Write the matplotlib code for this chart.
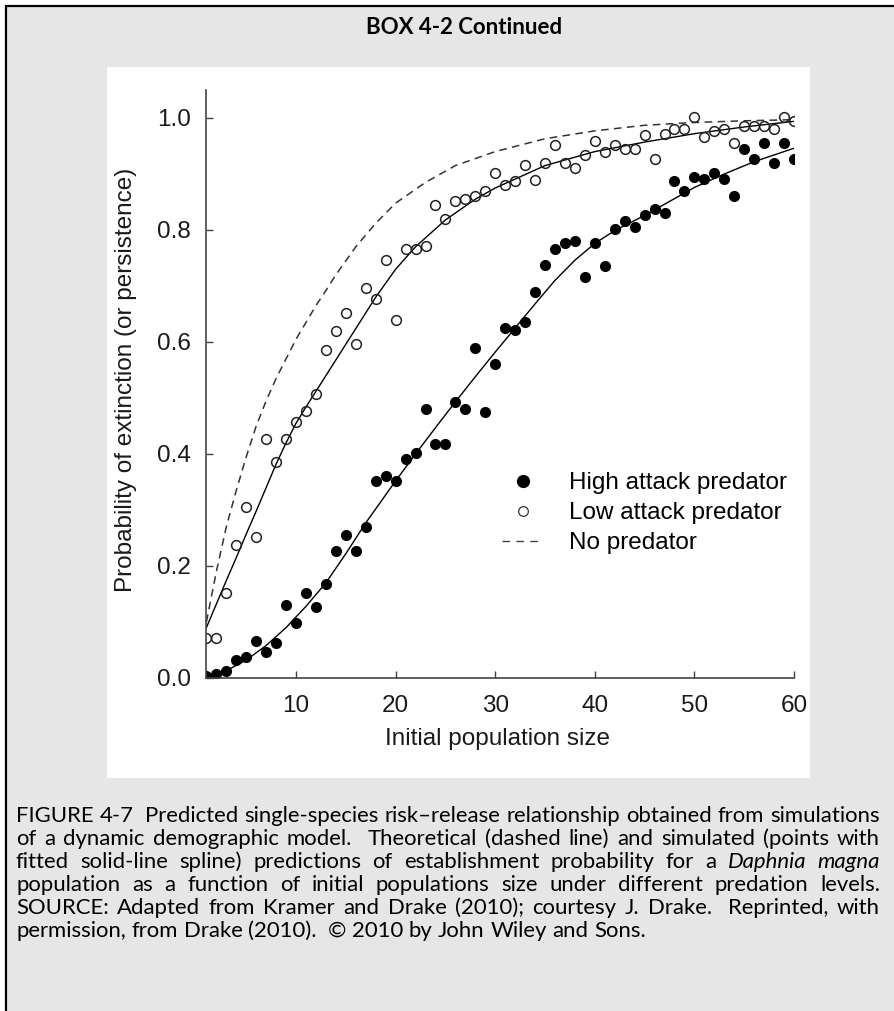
import numpy as np
import matplotlib.pyplot as plt
from matplotlib.patches import Rectangle

# ---- data ----
pop_size = np.arange(1, 61)

high_attack = [0.004, 0.008, 0.012, 0.033, 0.038, 0.066, 0.047, 0.062, 0.130, 0.098,
               0.152, 0.126, 0.167, 0.227, 0.255, 0.227, 0.270, 0.352, 0.360, 0.352,
               0.391, 0.402, 0.481, 0.417, 0.417, 0.492, 0.481, 0.590, 0.475, 0.561,
               0.625, 0.621, 0.636, 0.690, 0.737, 0.766, 0.776, 0.780, 0.716, 0.776,
               0.736, 0.801, 0.816, 0.805, 0.826, 0.837, 0.830, 0.887, 0.870, 0.895,
               0.891, 0.901, 0.891, 0.861, 0.945, 0.926, 0.955, 0.920, 0.955, 0.926]

low_attack = [0.072, 0.072, 0.152, 0.237, 0.306, 0.252, 0.427, 0.385, 0.427, 0.457,
              0.476, 0.507, 0.585, 0.620, 0.651, 0.597, 0.696, 0.676, 0.746, 0.640,
              0.766, 0.766, 0.772, 0.845, 0.820, 0.851, 0.855, 0.861, 0.870, 0.901,
              0.880, 0.887, 0.916, 0.890, 0.920, 0.951, 0.920, 0.911, 0.934, 0.959,
              0.940, 0.951, 0.945, 0.945, 0.970, 0.926, 0.971, 0.981, 0.980, 1.001,
              0.966, 0.976, 0.980, 0.956, 0.985, 0.985, 0.985, 0.980, 1.001, 0.995]

# fitted splines (solid lines), read at a few sizes
high_fit_x = [1, 3, 5, 7, 9, 11, 13, 15, 17, 20, 22, 24, 26, 28, 30, 32, 34, 36, 38,
              40, 42, 45, 48, 50, 53, 56, 60]
high_fit_y = [0.0, 0.013, 0.032, 0.058, 0.09, 0.128, 0.17, 0.222, 0.277, 0.352, 0.4,
              0.447, 0.493, 0.538, 0.582, 0.625, 0.668, 0.71, 0.746, 0.776, 0.799,
              0.826, 0.856, 0.876, 0.9, 0.922, 0.946]

low_fit_x = [1, 2, 3, 4, 5, 6, 7, 8, 9, 10, 11, 12, 14, 16, 18, 20, 22, 25, 28, 30,
             35, 40, 45, 50, 55, 60]
low_fit_y = [0.09, 0.132, 0.174, 0.215, 0.257, 0.298, 0.34, 0.382, 0.42, 0.455, 0.484,
             0.512, 0.568, 0.624, 0.68, 0.73, 0.77, 0.818, 0.855, 0.875, 0.915, 0.94,
             0.957, 0.972, 0.984, 0.994]

# theoretical curve, no predator (dashed)
no_pred_x = [1, 2, 3, 4, 5, 6, 7, 8, 10, 12, 13, 14, 16, 18, 20, 23, 26, 30, 35, 40,
             45, 50, 55, 60]
no_pred_y = [0.10, 0.19, 0.27, 0.335, 0.395, 0.45, 0.495, 0.535, 0.605, 0.665, 0.692,
             0.72, 0.77, 0.812, 0.848, 0.885, 0.915, 0.94, 0.963, 0.977, 0.987, 0.992,
             0.995, 0.997]

legend_labels = ["High attack predator", "Low attack predator", "No predator"]

title_text = "BOX 4-2 Continued"
caption_lines = [
    "FIGURE 4-7  Predicted single-species risk\u2013release relationship obtained from simulations",
    "of a dynamic demographic model.  Theoretical (dashed line) and simulated (points with",
    "fitted solid-line spline) predictions of establishment probability for a Daphnia magna",
    "population as a function of initial populations size under different predation levels.",
    "SOURCE: Adapted from Kramer and Drake (2010); courtesy J. Drake.  Reprinted, with",
    "permission, from Drake (2010).  \u00a9 2010 by John Wiley and Sons.",
]
italic_words = {"Daphnia", "magna"}

W, H = 894, 1011
fig = plt.figure(figsize=(W / 100, H / 100), dpi=100)
fig.patch.set_facecolor("white")

# grey box with black border (left and top visible)
fig.patches.append(Rectangle((5.5 / W, -0.05), 1.2, (H - 5.5) / H + 0.05,
                             transform=fig.transFigure, facecolor="#e6e6e6",
                             edgecolor="black", linewidth=1.6, zorder=-2))
# white panel behind the chart
fig.patches.append(Rectangle((107 / W, 1 - 778 / H), (810 - 107) / W, (778 - 67) / H,
                             transform=fig.transFigure, facecolor="white",
                             edgecolor="none", zorder=-1))

chart_font = "Liberation Sans"
fs = 17.5
ink = "#1a1a1a"

ax = fig.add_axes([206.4 / W, 1 - 678 / H, (794 - 206.4) / W, 588 / H])
ax.set_zorder(2)
ax.set_facecolor("none")

ax.plot(no_pred_x, no_pred_y, color="#333333", lw=1.1, ls=(0, (5, 3.5)))
ax.plot(low_fit_x, low_fit_y, color="black", lw=1.0)
ax.plot(high_fit_x, high_fit_y, color="black", lw=1.0)
ax.plot(pop_size, high_attack, ls="none", marker="o", ms=7, color="black",
        mec="black", label=legend_labels[0])
ax.plot(pop_size, low_attack, ls="none", marker="o", ms=7, mfc="none",
        mec="#222222", mew=1.1, label=legend_labels[1])

ax.set_xlim(1, 60)
ax.set_ylim(0, 1.05)
ax.set_xticks([10, 20, 30, 40, 50, 60])
ax.set_yticks([0.0, 0.2, 0.4, 0.6, 0.8, 1.0])
ax.set_yticklabels(["0.0", "0.2", "0.4", "0.6", "0.8", "1.0"])

for side in ["top", "right"]:
    ax.spines[side].set_visible(False)
for side in ["left", "bottom"]:
    ax.spines[side].set_color("#444444")
    ax.spines[side].set_linewidth(1.2)

ax.tick_params(direction="in", length=5, width=1, color="#444444",
               labelsize=fs, labelcolor=ink)
ax.tick_params(axis="y", pad=11)
ax.tick_params(axis="x", pad=12)
for lab in ax.get_xticklabels() + ax.get_yticklabels():
    lab.set_fontfamily(chart_font)

ax.set_xlabel("Initial population size", fontsize=fs, family=chart_font, color=ink)
ax.set_ylabel("Probability of extinction (or persistence)", fontsize=fs,
              family=chart_font, color=ink)
ax.xaxis.set_label_coords(0.496, -0.085)
ax.yaxis.set_label_coords(-0.118, 0.507)

# legend
h_high = plt.Line2D([], [], ls="none", marker="o", ms=8.5, color="black")
h_low = plt.Line2D([], [], ls="none", marker="o", ms=7, mfc="none", mec="#333333", mew=0.9)
h_none = plt.Line2D([], [], color="#444444", lw=1.0, ls=(0, (5.5, 4.5)))
ax.legend([h_high, h_low, h_none], legend_labels, loc="upper left",
          bbox_to_anchor=((502 - 206.4) / 587.6, (678 - 472) / 588),
          frameon=False, borderpad=0, borderaxespad=0, handlelength=1.7,
          handletextpad=1.05, labelspacing=0.33,
          prop={"family": chart_font, "size": fs})

# title
fig.text(464 / W, 1 - 28 / H, title_text, ha="center", va="center",
         family="Lato", weight="bold", fontsize=16, color="black")

# justified caption
cap_font = "Lato"
x_left, x_right = 16, 880
renderer = fig.canvas.get_renderer()


def word_width(word, style, size):
    if not word:
        return 0.0
    t = fig.text(0, 0, word, family=cap_font, fontsize=size, style=style)
    w = t.get_window_extent(renderer).width
    t.remove()
    return w


# size the caption font so the first line fills the column at normal spacing
cap_fs = 12 * (x_right - x_left - 6) / word_width(caption_lines[0], "normal", 12)
space_w = word_width("x x", "normal", cap_fs) - 2 * word_width("x", "normal", cap_fs)

for i, line in enumerate(caption_lines):
    y = 1 - (822 + 23 * i) / H
    words = line.split(" ")
    styles = ["italic" if w.strip(".,") in italic_words else "normal" for w in words]
    widths = [word_width(w, s, cap_fs) for w, s in zip(words, styles)]
    if i == len(caption_lines) - 1:
        gap = space_w
    else:
        gap = (x_right - x_left - sum(widths)) / (len(words) - 1)
    x = x_left
    for w, s, wd in zip(words, styles, widths):
        if w:
            fig.text(x / W, y, w, family=cap_font, fontsize=cap_fs, style=s,
                     ha="left", va="baseline", color="black")
        x += wd + gap

fig.savefig("out.png", dpi=100)
